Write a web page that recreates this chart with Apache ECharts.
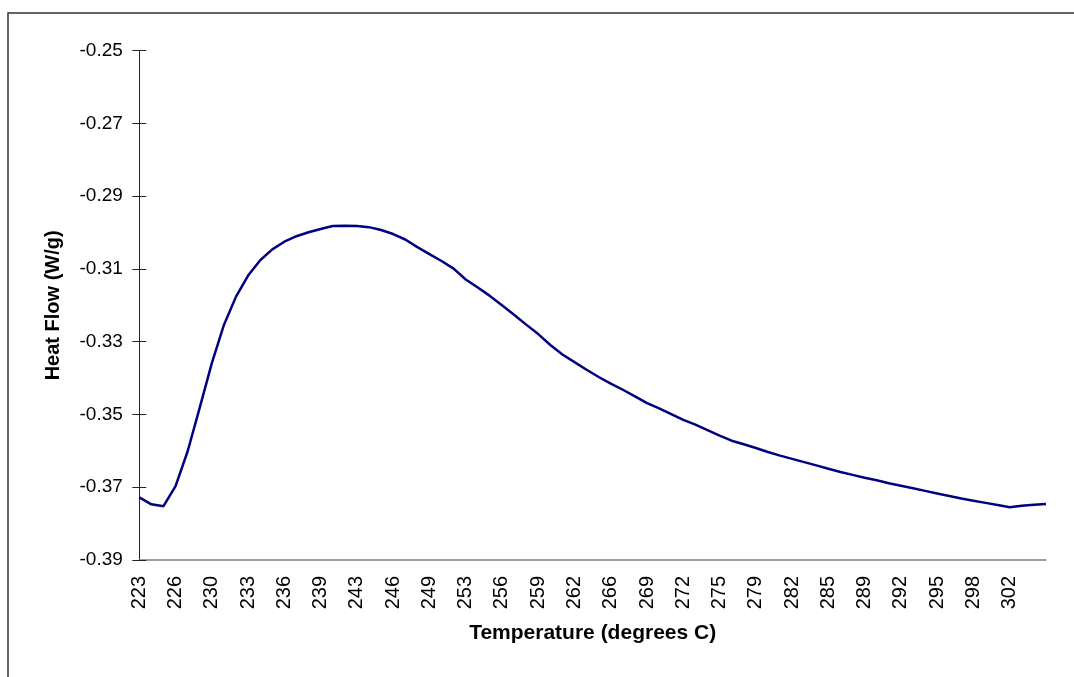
<!DOCTYPE html>
<html>
<head>
<meta charset="utf-8">
<script src="https://cdn.jsdelivr.net/npm/echarts@6/dist/echarts.min.js"></script>
<style>
html,body{margin:0;padding:0;background:#fff;}
#chart{width:1074px;height:677px;}
</style>
</head>
<body>
<div id="chart"></div>
<script>
// Temperature categories (degrees C)
var temperatures = [
  223.0, 224.1, 225.2, 226.3, 227.4, 228.5, 229.6, 230.7, 231.7, 232.8,
  233.9, 235.0, 236.1, 237.2, 238.3, 239.4, 240.5, 241.6, 242.7, 243.8,
  244.9, 246.0, 247.0, 248.1, 249.2, 250.3, 251.4, 252.5, 253.6, 254.7,
  255.8, 256.9, 258.0, 259.1, 260.2, 261.3, 262.3, 263.4, 264.5, 265.6,
  266.7, 267.8, 268.9, 270.0, 271.1, 272.2, 273.3, 274.4, 275.4, 276.6,
  277.7, 278.7, 279.8, 280.9, 282.0, 283.1, 284.2, 285.3, 286.4, 287.5,
  288.6, 289.7, 290.8, 291.9, 293.0, 294.0, 295.1, 296.2, 297.3, 298.4,
  299.5, 300.6, 301.7, 302.8, 303.9, 305.0
];
// Heat flow (W/g)
var heatFlow = [
  -0.3728, -0.3747, -0.3752, -0.3697, -0.3601, -0.3481, -0.3359, -0.3254, -0.3176, -0.3118,
  -0.3076, -0.3046, -0.3025, -0.3010, -0.2999, -0.2990, -0.2982, -0.2981, -0.2982, -0.2985,
  -0.2993, -0.3004, -0.3019, -0.3040, -0.3059, -0.3078, -0.3099, -0.3129, -0.3151, -0.3174,
  -0.3200, -0.3226, -0.3253, -0.3279, -0.3309, -0.3335, -0.3356, -0.3377, -0.3397, -0.3415,
  -0.3432, -0.3450, -0.3469, -0.3483, -0.3499, -0.3515, -0.3528, -0.3543, -0.3558, -0.3572,
  -0.3582, -0.3592, -0.3603, -0.3613, -0.3622, -0.3631, -0.3640, -0.3649, -0.3658, -0.3666,
  -0.3674, -0.3681, -0.3689, -0.3696, -0.3703, -0.3710, -0.3717, -0.3724, -0.3731, -0.3737,
  -0.3743, -0.3749, -0.3755, -0.3751, -0.3748, -0.3746
];
var yMin = -0.39, yMax = -0.25, yStep = 0.02;
var xLabelEvery = 3;

var font = "'Liberation Sans', Arial, sans-serif";
var chart = echarts.init(document.getElementById('chart'), null, {renderer: 'canvas'});
var yCommon = {
  type: 'value', min: yMin, max: yMax, interval: yStep, position: 'left',
  splitLine: {show: false}
};
chart.setOption({
  animation: false,
  backgroundColor: '#ffffff',
  graphic: [{
    type: 'rect', silent: true,
    shape: {x: 8, y: 13, width: 1200, height: 800},
    style: {fill: 'none', stroke: '#333333', lineWidth: 1.5}
  }],
  grid: {left: 139.3, right: 28, top: 50.7, bottom: 117, containLabel: false},
  xAxis: {
    type: 'category',
    data: temperatures,
    boundaryGap: false,
    name: 'Temperature (degrees C)',
    nameLocation: 'middle',
    nameGap: 63,
    nameTextStyle: {fontFamily: font, fontSize: 21, fontWeight: 'bold', color: '#000'},
    axisLine: {lineStyle: {color: '#808080', width: 1.5}},
    axisTick: {show: false},
    axisLabel: {
      interval: function (idx) {
        return idx % xLabelEvery === 0 && idx < temperatures.length - 1;
      },
      rotate: 90,
      margin: 16,
      fontFamily: font, fontSize: 20, color: '#000',
      formatter: function (v) { return String(Math.round(Number(v))); }
    },
    splitLine: {show: false}
  },
  yAxis: [
    Object.assign({}, yCommon, {
      name: 'Heat Flow (W/g)',
      nameLocation: 'middle',
      nameGap: 76,
      nameTextStyle: {fontFamily: font, fontSize: 20, fontWeight: 'bold', color: '#000'},
      axisLine: {show: true, lineStyle: {color: '#222', width: 1}},
      axisTick: {show: true, inside: false, length: 7, lineStyle: {color: '#222', width: 1}},
      axisLabel: {
        margin: 16.5, fontFamily: font, fontSize: 19, color: '#000',
        formatter: function (v) { return v.toFixed(2); }
      }
    }),
    Object.assign({}, yCommon, {
      axisLine: {show: false},
      axisTick: {show: true, inside: true, length: 7, lineStyle: {color: '#222', width: 1}},
      axisLabel: {show: false}
    })
  ],
  series: [{
    type: 'line',
    data: heatFlow,
    showSymbol: false,
    symbol: 'none',
    smooth: false,
    lineStyle: {color: '#000080', width: 2.5},
    yAxisIndex: 0
  }]
});
</script>
</body>
</html>
